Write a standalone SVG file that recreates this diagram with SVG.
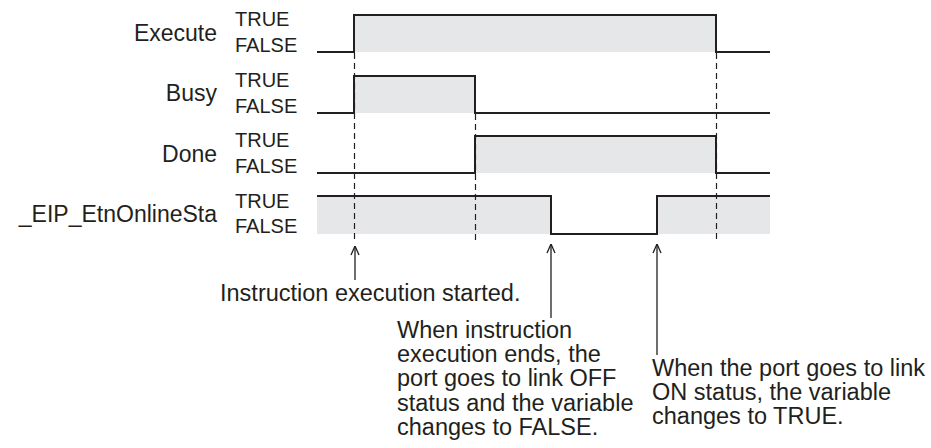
<svg xmlns="http://www.w3.org/2000/svg" width="931" height="448" viewBox="0 0 931 448">
  <style>
    text { font-family: "Liberation Sans", Arial, sans-serif; fill: #231f20; }
    .lbl { font-size: 23px; text-anchor: end; }
    .tf { font-size: 20px; }
    .desc { font-size: 23.5px; }
    .fill { fill: #e6e7e8; stroke: none; }
    .sig { fill: none; stroke: #231f20; stroke-width: 2; stroke-linejoin: miter; }
    .dash { fill: none; stroke: #231f20; stroke-width: 1.2; stroke-dasharray: 6 4; }
    .arr { fill: none; stroke: #231f20; stroke-width: 1.3; marker-start: url(#open); }
  </style>
  <defs>
    <marker id="open" viewBox="0 0 10 10" refX="0" refY="5" markerWidth="10" markerHeight="10" markerUnits="userSpaceOnUse" orient="auto">
      <path d="M9,1 L0,5 L9,9" fill="none" stroke="#231f20" stroke-width="1.3"/>
    </marker>
  </defs>

  <rect width="931" height="448" fill="#ffffff"/>

  <g id="execute">
    <rect class="fill" x="354" y="15" width="362" height="37"/>
    <path class="sig" d="M317,52 H354 V15 H716 V52 H770"/>
    <text class="lbl" x="217" y="41">Execute</text>
    <text class="tf" x="235" y="26">TRUE</text>
    <text class="tf" x="235" y="52">FALSE</text>
  </g>

  <g id="busy">
    <rect class="fill" x="354" y="76" width="121" height="37"/>
    <path class="sig" d="M317,113 H354 V76 H475 V113 H770"/>
    <text class="lbl" x="217" y="101">Busy</text>
    <text class="tf" x="235" y="87">TRUE</text>
    <text class="tf" x="235" y="113">FALSE</text>
  </g>

  <g id="done">
    <rect class="fill" x="475" y="136" width="241" height="37"/>
    <path class="sig" d="M317,173 H475 V136 H716 V173 H770"/>
    <text class="lbl" x="217" y="162">Done</text>
    <text class="tf" x="235" y="147">TRUE</text>
    <text class="tf" x="235" y="173">FALSE</text>
  </g>

  <g id="eip">
    <rect class="fill" x="317" y="196" width="234" height="38"/>
    <rect class="fill" x="657" y="196" width="113" height="38"/>
    <path class="sig" d="M317,196 H551 V234 H657 V196 H770"/>
    <text class="lbl" x="217" y="222">_EIP_EtnOnlineSta</text>
    <text class="tf" x="235" y="208">TRUE</text>
    <text class="tf" x="235" y="233">FALSE</text>
  </g>

  <g id="connectors">
    <line class="dash" x1="354.5" y1="53" x2="354.5" y2="240"/>
    <line class="dash" x1="475.5" y1="114" x2="475.5" y2="242"/>
    <line class="dash" x1="716.5" y1="53" x2="716.5" y2="240"/>
    <line class="arr" x1="355" y1="246" x2="355" y2="280"/>
    <line class="arr" x1="551" y1="244" x2="551" y2="318"/>
    <line class="arr" x1="657" y1="244" x2="657" y2="355"/>
  </g>

  <g id="note-start">
    <text class="desc" x="220" y="301">Instruction execution started.</text>
  </g>
  <g id="note-off">
    <text class="desc" x="397" y="338">When instruction</text>
    <text class="desc" x="397" y="362">execution ends, the</text>
    <text class="desc" x="397" y="386">port goes to link OFF</text>
    <text class="desc" x="397" y="411">status and the variable</text>
    <text class="desc" x="397" y="435">changes to FALSE.</text>
  </g>
  <g id="note-on">
    <text class="desc" x="652" y="376">When the port goes to link</text>
    <text class="desc" x="652" y="400">ON status, the variable</text>
    <text class="desc" x="652" y="424">changes to TRUE.</text>
  </g>
</svg>
